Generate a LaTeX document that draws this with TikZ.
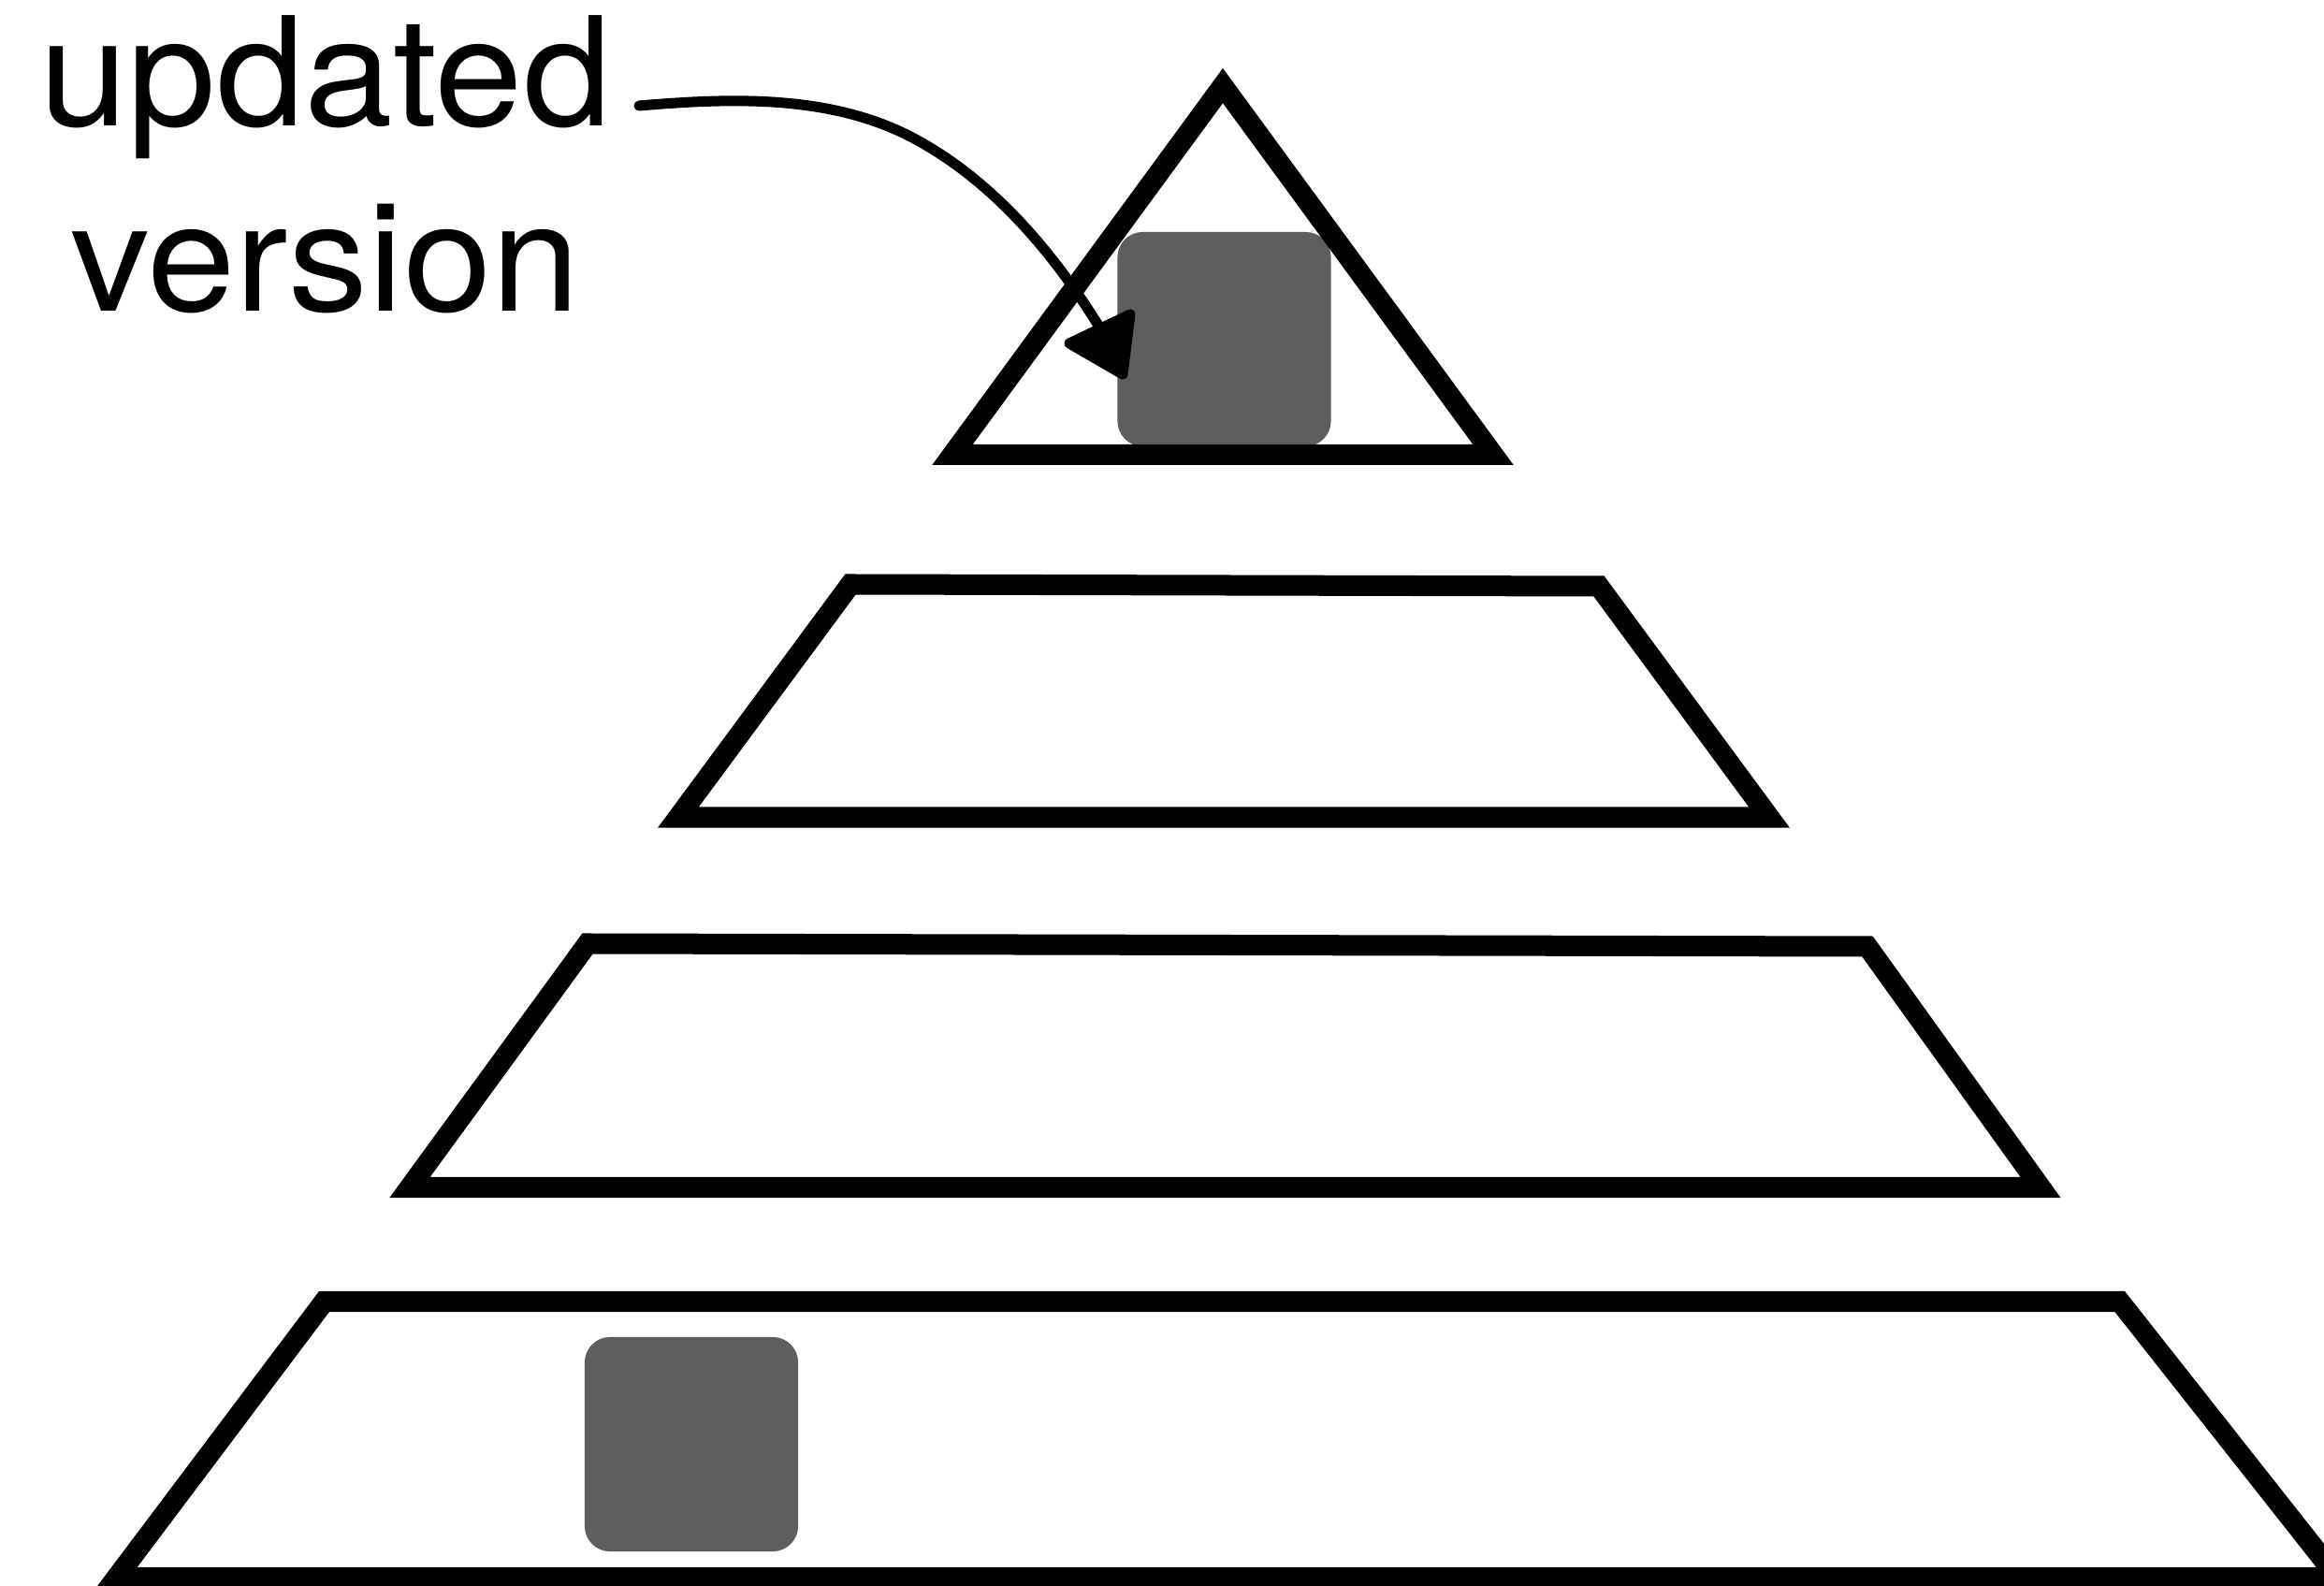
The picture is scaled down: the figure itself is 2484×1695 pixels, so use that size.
\documentclass[tikz,border=0pt]{standalone}
\usepackage{fontspec}
\setmainfont{TeX Gyre Heros}
\newfontfamily\lblfont{TeX Gyre Heros}[FakeStretch=1.05]
\usetikzlibrary{arrows.meta}
\definecolor{boxgray}{RGB}{94,94,94}
\begin{document}
\begin{tikzpicture}[x=0.01cm,y=-0.01cm,
  tier/.style={draw=black, line width=0.22cm, line join=miter},
  blk/.style={fill=boxgray, draw=none, rounded corners=0.27cm, minimum width=2.28cm, minimum height=2.29cm, inner sep=0pt},
  lbl/.style={font=\lblfont\fontsize{46}{55}\selectfont, inner sep=0pt, anchor=base},
  sketch/.style={line width=0.11cm, line cap=round, line join=round}]
\useasboundingbox (0,0) rectangle (2484,1695);
\clip (0,0) rectangle (2484,1695);
\fill[white] (0,0) rectangle (2484,1695);

% grey blocks
\node[blk] (newv) at (1308.5,362.5) {};
\node[blk] (oldv) at (739,1543.5) {};

% tiers
\draw[tier] (1307,91.6) -- (1596,486) -- (1018,486) -- cycle;
\draw[tier] (909,624.5) -- (1709,626.5) -- (1891,873.5) -- (725,873.5) -- cycle;
\draw[tier] (628,1008.5) -- (1996,1011.5) -- (2181,1269) -- (438,1269) -- cycle;
\draw[tier] (346.5,1391) -- (2265.7,1391) -- (2498.5,1686) -- (124.6,1686) -- cycle;

% label
\node[lbl] (upd) at (348,135) {updated};
\node[lbl] (ver) at (348,333) {version};

% hand-drawn arrow
\coordinate (a0) at (683,113);
\coordinate (amid) at (977,148);
\coordinate (abase) at (1176,351);
\coordinate (atip) at (1200,400);
\draw[sketch] (a0) .. controls (783,104.5) and (889,101) .. (amid)
  .. controls (1061,193) and (1126,270) .. (abase);
\filldraw[sketch] (1143,367) -- (1208,336) -- (atip) -- cycle;
\end{tikzpicture}
\end{document}
